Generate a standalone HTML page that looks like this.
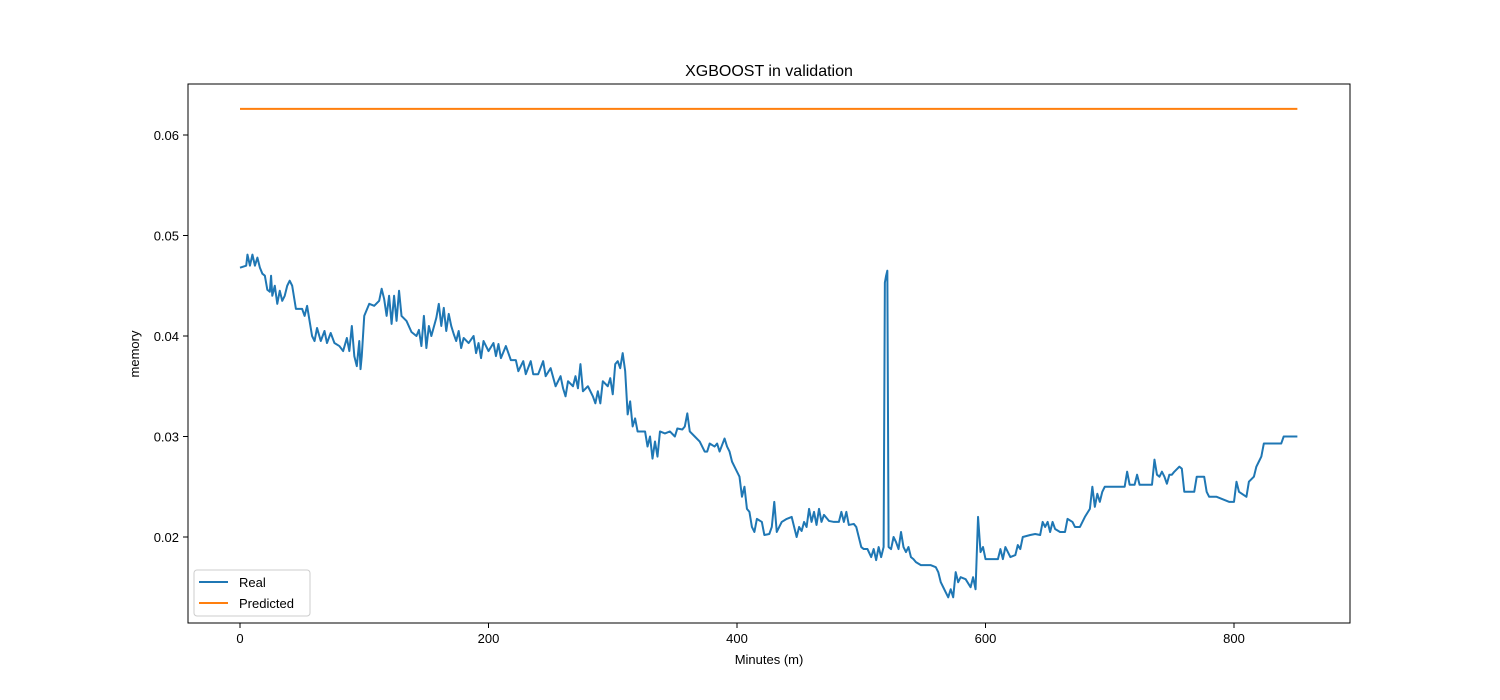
<!DOCTYPE html>
<html><head><meta charset="utf-8"><style>
body{margin:0;background:#fff;}
svg{display:block;font-family:"Liberation Sans","DejaVu Sans",sans-serif;}
</style></head><body>
<svg id="chart" width="1500" height="700">
<rect x="0" y="0" width="1500" height="700" fill="#fff"/>
<g id="plot"></g>
</svg>
<script>
const realX=[0,5,6,8,10,12,14,16,18,20,22,24,25,26,28,30,32,34,36,38,40,42,45,50,52,54,56,58,60,62,65,68,70,73,76,80,83,86,88,90,92,94,96,97,98,100,104,108,112,114,116,118,120,122,124,126,128,130,134,138,142,144,146,148,150,152,154,158,160,162,164,166,168,170,172,174,176,178,180,184,188,190,192,194,196,200,204,206,208,210,214,218,222,224,228,230,234,236,240,244,246,250,254,258,260,262,264,268,270,272,274,276,280,284,286,288,290,292,296,298,300,302,304,306,308,310,312,314,316,318,320,326,328,330,332,334,336,338,342,346,350,352,356,358,360,362,366,370,372,374,376,378,382,384,386,390,392,394,396,398,400,402,404,406,408,410,412,414,416,420,422,426,428,430,432,434,436,440,444,446,448,450,452,454,456,458,460,462,464,466,468,470,474,478,482,484,486,488,490,494,496,498,500,502,505,508,510,512,514,516,518,519,520,521,522,524,526,528,530,532,534,536,538,540,542,544,548,552,556,560,562,564,566,568,570,572,574,576,578,580,584,588,590,592,594,596,598,600,610,612,614,616,620,624,626,628,630,636,640,644,646,648,650,652,654,656,660,664,666,670,672,676,680,684,686,688,690,692,694,696,712,714,716,720,722,724,734,736,738,740,742,744,746,748,750,752,756,758,760,768,770,776,778,780,786,790,796,800,802,804,810,812,816,818,820,822,824,838,840,851];
const realY=[.0468,.0470,.0481,.0470,.0481,.0470,.0478,.0468,.0462,.0460,.0446,.0444,.0460,.0440,.0450,.0432,.0445,.0435,.0440,.0450,.0455,.0450,.0427,.0427,.0420,.0430,.0415,.0400,.0395,.0408,.0395,.0405,.0393,.0403,.0393,.0390,.0385,.0398,.0385,.0410,.0380,.0370,.0395,.0367,.0380,.0420,.0432,.0430,.0435,.0447,.0437,.0420,.0440,.0412,.0440,.0415,.0445,.0420,.0415,.0404,.0400,.0406,.0390,.0420,.0388,.0410,.0400,.0418,.0432,.0410,.0428,.0405,.0422,.0410,.0402,.0395,.0405,.0388,.0398,.0393,.0400,.0383,.0393,.0378,.0395,.0385,.0393,.0380,.0392,.0378,.0390,.0376,.0376,.0365,.0375,.0362,.0375,.0362,.0362,.0375,.0360,.0368,.0350,.0360,.0348,.0340,.0355,.0350,.0360,.0348,.0372,.0345,.0350,.0340,.0333,.0345,.0333,.0355,.0350,.0358,.0342,.0372,.0375,.0368,.0383,.0365,.0322,.0335,.0310,.0318,.0305,.0305,.0290,.0300,.0278,.0295,.0280,.0305,.0303,.0305,.0300,.0308,.0307,.0310,.0323,.0305,.0300,.0295,.0290,.0285,.0285,.0293,.0290,.0293,.0285,.0298,.0290,.0285,.0275,.0270,.0265,.0260,.0240,.0250,.0228,.0225,.0210,.0205,.0218,.0215,.0202,.0203,.0210,.0235,.0205,.0210,.0215,.0218,.0220,.0210,.0200,.0210,.0206,.0215,.0210,.0228,.0215,.0225,.0212,.0228,.0215,.0222,.0216,.0215,.0215,.0225,.0215,.0225,.0212,.0213,.0210,.0200,.0190,.0188,.0188,.0180,.0188,.0177,.0190,.0180,.0190,.0453,.0460,.0465,.0190,.0188,.0200,.0195,.0188,.0205,.0190,.0185,.0190,.0180,.0178,.0175,.0172,.0172,.0172,.0170,.0165,.0155,.0150,.0145,.0140,.0148,.0140,.0165,.0155,.0160,.0158,.0150,.0160,.0148,.0220,.0185,.0190,.0178,.0178,.0188,.0178,.0190,.0180,.0182,.0192,.0188,.0200,.0202,.0203,.0202,.0215,.0210,.0215,.0205,.0215,.0208,.0205,.0205,.0218,.0215,.0210,.0210,.0220,.0228,.0250,.0230,.0243,.0235,.0245,.0250,.0250,.0265,.0252,.0252,.0262,.0252,.0252,.0277,.0262,.0260,.0265,.0260,.0253,.0262,.0262,.0265,.0270,.0268,.0245,.0245,.0260,.0260,.0245,.0240,.0240,.0238,.0235,.0235,.0255,.0245,.0240,.0255,.0260,.0270,.0275,.0280,.0293,.0293,.0300,.0300];
const predX=[0,851];
const predY=[.0626,.0626];
const xTicks=[0,200,400,600,800];
const yTicks=[0.02,0.03,0.04,0.05,0.06];

const L=188,R=1350,T=84,B=623;
const xs=v=>240+v*(1234-240)/800;
const ys=v=>537-(v-0.02)*(537-135)/0.04;
const NS='http://www.w3.org/2000/svg';
const g=document.getElementById('plot');
function mk(t,a,p){const e=document.createElementNS(NS,t);for(const k in a)e.setAttribute(k,a[k]);(p||g).appendChild(e);return e;}

const real=mk('polyline',{points:realX.map((x,i)=>xs(x)+','+ys(realY[i])).join(' '),fill:'none',stroke:'#1f77b4','stroke-width':2,'stroke-linejoin':'round'});


const pred=mk('polyline',{points:predX.map((x,i)=>xs(x)+','+ys(predY[i])).join(' '),fill:'none',stroke:'#ff7f0e','stroke-width':2});



const frame=mk('rect',{x:L,y:T,width:R-L,height:B-T,fill:'none',stroke:'#000','stroke-width':1});



xTicks.forEach(v=>{
  const x=xs(v);
  mk('line',{x1:x,x2:x,y1:B,y2:B+5,stroke:'#000'});
  const t=mk('text',{x:x,y:B+20,'text-anchor':'middle','font-size':13});
  t.textContent=v;
  
  
});
yTicks.forEach(v=>{
  const y=ys(v);
  mk('line',{x1:L-5,x2:L,y1:y,y2:y,stroke:'#000'});
  const t=mk('text',{x:L-9,y:y+5,'text-anchor':'end','font-size':13});
  t.textContent=v.toFixed(2);
  
  
});
</script>
<svg style="position:absolute;left:0;top:0" width="1500" height="700">
<text x="769" y="76" text-anchor="middle" font-size="16" font-family="Liberation Sans, sans-serif">XGBOOST in validation</text>
<text x="769" y="664" text-anchor="middle" font-size="13" font-family="Liberation Sans, sans-serif">Minutes (m)</text>
<text transform="translate(139,354) rotate(-90)" text-anchor="middle" font-size="13" font-family="Liberation Sans, sans-serif">memory</text>
<g>
<rect x="194" y="570" width="116" height="46" rx="3" fill="#fff" fill-opacity="0.8" stroke="#ccc"/>
<line x1="199" x2="228" y1="582" y2="582" stroke="#1f77b4" stroke-width="2"/>
<text x="239" y="587" font-size="13" font-family="Liberation Sans, sans-serif">Real</text>
<line x1="199" x2="228" y1="603" y2="603" stroke="#ff7f0e" stroke-width="2"/>
<text x="239" y="608" font-size="13" font-family="Liberation Sans, sans-serif">Predicted</text>
</g>
</svg>
</body></html>
